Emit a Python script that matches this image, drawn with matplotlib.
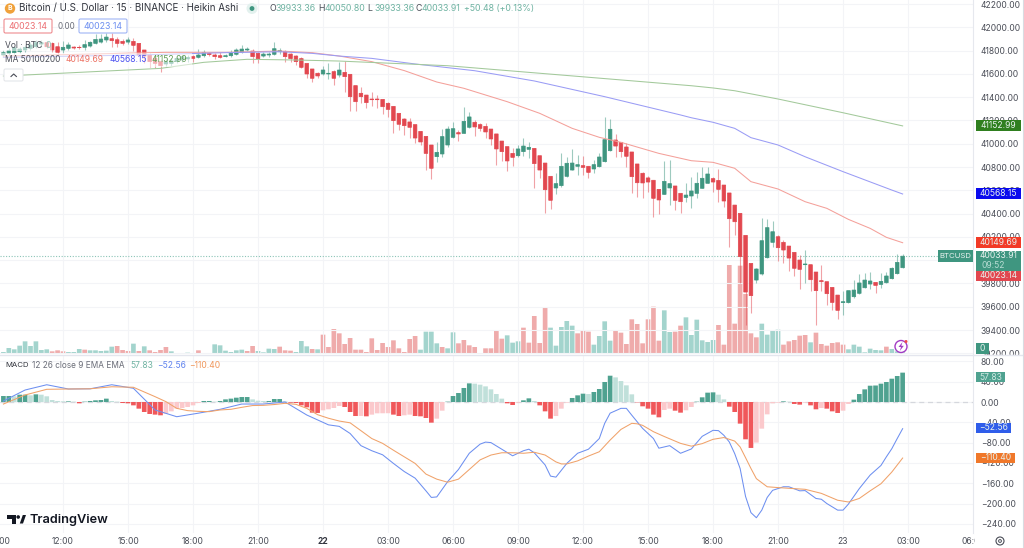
import matplotlib
matplotlib.use('Agg')
import matplotlib.pyplot as plt
from matplotlib.patches import Rectangle, Circle, Polygon, FancyBboxPatch
from matplotlib.ticker import FuncFormatter
from matplotlib.transforms import Bbox

plt.rcParams['font.family'] = ['Inter', 'DejaVu Sans']

# 15 min bars, counted from 12:00 on the 21st
first_bar = -11
opens = [41762,41776,41782,41790,41805,41819,41833,41856,41868,41862,41833,41805,41819,41830,41828,41828,41839,41862,41873,41891,41902,41893,41879,41873,41879,41862,41805,41762,41733,41705,41685,41690,41705,41719,41728,41748,41742,41756,41776,41762,41756,41748,41756,41768,41785,41805,41796,41776,41753,41762,41768,41790,41793,41770,41753,41731,41690,41642,41605,41599,41599,41619,41590,
 41613,41596,41499,41433,41418,41384,41384,41381,41347,41321,41261,41212,41187,41164,41106,41063,40989,40889,40912,40989,41055,41095,41089,41141,41184,41164,41149,41126,41084,41023,40975,40917,40897,40932,40952,40960,40897,40834,40720,40620,40640,40720,40774,40806,40812,40806,40783,40803,40846,40940,41032,41012,40972,40929,40826,40746,40706,40686,40608,40565,40620,40637,40574,
 40539,40551,40574,40617,40660,40700,40685,40645,40577,40473,40402,40213,39972,39829,39881,40021,40153,40201,40153,40121,40067,40001,39961,39961,39898,39824,39815,39766,39700,39635,39635,39686,39715,39763,39795,39809,39792,39806,39841,39884,39935]
highs = [41805,41819,41839,41833,41848,41876,41891,41891,41885,41876,41876,41885,41876,41839,41848,41891,41885,41939,41939,41948,41948,41914,41896,41919,41905,41862,41805,41776,41762,41719,41725,41733,41753,41762,41762,41762,41810,41805,41790,41782,41790,41770,41805,41819,41848,41828,41810,41790,41790,41790,41876,41825,41805,41782,41762,41748,41690,41642,41619,41667,41690,41633,41705,
 41711,41596,41499,41490,41418,41447,41418,41381,41361,41321,41261,41218,41218,41164,41106,41063,40989,41012,41124,41152,41189,41118,41313,41275,41204,41181,41181,41126,41084,41023,40975,40960,40989,41046,41018,40960,40897,40834,40720,40751,40917,40889,40955,40903,40895,40806,40860,40917,41227,41212,41084,41012,41003,40929,40826,40760,40723,40686,40608,40852,40860,40637,40574,
 40660,40717,40760,40803,40803,40717,40783,40645,40577,40473,40402,40213,39972,39930,40359,40350,40339,40216,40173,40121,40067,40044,40087,39961,39898,39958,39815,39766,39700,39738,39738,39829,39881,39887,39901,39809,39887,39901,39944,40050,40050]
lows = [41748,41762,41770,41776,41790,41805,41819,41833,41819,41790,41762,41776,41805,41810,41810,41808,41833,41853,41862,41876,41833,41833,41848,41856,41799,41753,41690,41662,41647,41619,41670,41670,41690,41705,41705,41705,41733,41742,41753,41725,41733,41742,41748,41762,41776,41799,41690,41690,41742,41748,41762,41770,41705,41705,41676,41647,41562,41533,41562,41590,41556,41505,41570,
 41447,41284,41284,41353,41310,41327,41304,41252,41232,41089,41118,41075,41046,41003,40989,40774,40694,40846,40889,40975,41046,41026,41089,41132,41066,41109,41046,40989,40817,40852,40769,40809,40889,40895,40875,40617,40703,40402,40436,40565,40631,40717,40774,40731,40731,40708,40746,40803,40846,40940,40883,40889,40797,40580,40545,40537,40588,40373,40396,40565,40474,40431,40402,
 40502,40451,40531,40617,40660,40588,40502,40459,40116,40216,39806,39443,39549,39801,39872,40015,40110,39995,39972,39909,39864,39752,39806,39738,39443,39738,39615,39572,39491,39529,39635,39672,39709,39758,39749,39715,39758,39801,39838,39881,39935]
closes = [41782,41799,41825,41813,41828,41848,41868,41868,41833,41805,41785,41828,41848,41822,41825,41851,41871,41896,41899,41916,41885,41862,41862,41891,41845,41762,41753,41705,41690,41670,41705,41711,41733,41748,41742,41733,41762,41785,41765,41748,41742,41756,41782,41805,41813,41813,41748,41731,41770,41770,41816,41799,41748,41731,41705,41656,41599,41562,41582,41633,41605,41562,41633,
 41576,41404,41361,41404,41353,41378,41378,41318,41295,41198,41167,41155,41141,41049,41015,40917,40789,40926,41061,41126,41129,41084,41192,41230,41144,41132,41101,41041,40955,40932,40852,40883,40955,40980,40969,40829,40774,40605,40514,40657,40806,40832,40834,40820,40797,40754,40820,40886,41035,41124,40980,40932,40892,40717,40665,40663,40671,40531,40517,40677,40657,40514,40502,
 40559,40594,40660,40703,40740,40671,40608,40508,40356,40330,40030,39726,39695,39924,40167,40279,40244,40107,40087,40018,39930,39921,39967,39832,39738,39815,39712,39637,39569,39643,39738,39743,39804,39829,39821,39783,39818,39864,39930,39981,40034]

volume = [6,18,14,25,38,24,38,12,14,8,11,8,6,6,15,13,11,11,9,10,22,24,12,9,31,9,23,11,6,12,21,8,2,2,4,3,11,3,3,29,26,10,6,11,13,9,24,9,5,16,15,22,11,10,6,39,23,15,14,58,21,75,62,
 30,48,13,13,6,47,12,33,21,41,17,6,45,54,13,67,67,32,21,17,65,32,42,26,21,3,17,17,69,46,56,34,38,79,34,114,33,140,79,25,81,99,85,62,71,67,28,54,98,40,70,64,30,104,90,32,104,142,40,131,66,67,85,
 110,57,103,41,36,42,87,28,267,91,265,180,62,50,91,58,72,73,28,38,42,55,57,35,64,30,25,33,35,28,14,28,22,5,16,12,11,22,15,8,5]
volume_side = ('uuuuuuuuuddduuuduuuuudddududddduuuuuduuuuuuuuddu''uuuddduuudud'
 'ddddddddddddddddduuuuduuddddddddduuuddddduuuuuddduuuuddddddddduudd'
 'uuuuuudddddddduuuudddddudddddduuuuuuuduuuu')

macd_hist = [11.8,11.8,11.2,14.4,14.4,13.1,15.1,14.4,11.2,3.9,2.0,1.3,1.3,0.7,-2.6,0.7,2.0,3.3,3.9,6.6,2.0,0.7,-2.0,-2.6,-6.6,-13.1,-19.7,-23.6,-24.9,-26.2,-23.0,-18.4,-13.1,-11.8,-9.8,-6.6,-2.0,2.0,2.0,0.7,2.0,5.2,6.6,8.5,9.8,9.8,5.2,2.6,2.0,2.0,5.9,5.9,1.3,-1.3,-2.0,-6.6,-10.5,-21.0,-21.6,-16.4,-14.4,-11.8,-7.9,
 -9.8,-19.7,-27.6,-27.5,-28.2,-24.9,-22.3,-22.2,-22.1,-24.9,-27.6,-26.2,-24.9,-27.6,-28.2,-31.5,-40.7,-32.8,-17.1,0.7,11.8,17.7,27.6,36.7,36.1,34.1,30.8,24.9,15.7,6.6,-2.6,-5.9,-1.3,3.3,7.2,2.0,-6.6,-18.4,-32.8,-27.6,-13.1,-1.3,7.9,13.1,16.4,15.7,19.7,25.6,39.4,51.8,48.5,41.3,32.8,15.1,-0.7,-8.5,-13.1,-24.9,-30.2,-15.7,-13.1,-17.1,-21.0,
 -16.4,-9.8,0.7,9.2,18.4,19.0,14.4,5.2,-9.2,-19.7,-42.6,-73.5,-90.5,-80.0,-52.5,-24.3,-2.6,-1.3,1.3,0.7,-3.9,-5.2,-1.3,-6.6,-14.4,-11.8,-13.1,-18.4,-21.6,-17.1,-3.9,4.6,15.7,24.9,32.1,32.5,36.1,39.4,45.9,51.2,57.83]

macd_bars = [-11,-7,-3,1,5,9,13,17,21,25,29,33,37,41,45,49,51,53,55,57,59,61,63,65,67,68,69,71,73,75,77,78,79,81,83,85,86,87,89,90,91,93,95,97,99,100,101,103,104,105,107,109,110,112,114,116,118,120,121,122,123,124,125,126,127,128,129,130,131,133,134,136,137,139,140,141,143,144,145,147,149,151,152,153,154,155]
macd_line = [2,23.6,34,25.6,26,34,27,-15.7,-29,-22,-14.4,-4,-4,0,-25.6,-45,-48,-62,-86,-96,-104,-121,-137,-150,-175,-188,-187,-157,-133,-101,-83,-79,-80,-93,-106,-96,-93,-100,-124,-146,-148,-121,-101,-93,-72,-42,-22,-12.5,-12.5,-26,-52,-72,-91,-86,-101,-92.5,-67.6,-55.8,-56.4,-65.6,-78.7,-101.7,-131,-186,-218,-228,-213,-188,-174,-167,-167,-175,-174.5,-190,-191.6,-200,-213,-213,-201,-170.6,-144,-125,-108,-92,-72,-52.56]
signal_bars = [-11,-7,-3,1,5,9,13,17,19,21,23,25,27,29,31,33,35,37,39,41,43,45,47,49,51,53,55,57,59,61,63,65,67,69,71,73,75,77,79,81,83,85,87,89,91,92,93,95,97,99,101,103,105,106,107,109,111,114,116,118,120,122,124,125,126,127,128,130,132,134,137,140,143,145,147,149,151,153,155]
signal_line = [-4,13.8,25,25.6,26,30,29,10.5,0.7,-12.5,-17,-18.4,-19,-15.7,-14.4,-10.5,-7,-6.6,-5,-2.6,-4.6,-12.5,-25,-32,-37.5,-41,-56.5,-72,-81.5,-95,-108,-121,-142,-152,-158,-152,-133,-114,-104.5,-100,-100,-101,-99,-104.5,-118,-122,-122,-116,-106.5,-98,-75,-54,-42,-43,-46,-58.5,-68,-81.5,-87,-82,-73.5,-70,-77,-88.6,-109.6,-131,-151,-167,-168.6,-170,-172,-180,-193.5,-197,-190,-175,-161,-138,-110.4]

ma50_bars = [-11,19,30,40,46,51,57,63,69,74,82,88,94,99,103,110,114,116,120,124,127,132,137,141,145,149,152,155]
ma50 = [41753,41785,41785,41796,41782,41753,41705,41628,41530,41476,41361,41261,41132,41055,41012,40917,40875,40854,40840,40789,40674,40611,40502,40445,40350,40273,40196,40149.69]
ma100_bars = [-11,14,30,40,46,51,57,65,76,87,100,114,116,120,124,127,132,137,144,153,155]
ma100 = [41742,41762,41782,41790,41776,41753,41733,41685,41627,41539,41404,41247,41223,41184,41132,41052,40989,40888,40760,40602,40568.15]
ma200_bars = [-11,18,26,34,43,51,71,92,116,120,124,132,144,155]
ma200 = [41581,41647,41699,41725,41719,41710,41670,41590,41498,41479,41455,41384,41266,41152.99]

time_bars = [-12,0,12,24,36,48,60,72,84,96,108,120,132,144,156,168]
time_labels = ['09:00','12:00','15:00','18:00','21:00','22','03:00','06:00','09:00','12:00','15:00','18:00','21:00','23','03:00','06:00']

green = '#3f9680'
red = '#e2474f'
text_col = '#4a4d57'
grid_col = '#f3f4f7'

W, H = 1024, 548
fig = plt.figure(figsize=(W / 100, H / 100), dpi=100)


def add_panel(top, bottom, right=973):
    return fig.add_axes([0, 1 - bottom / H, right / W, (bottom - top) / H])


def bar_x(px):
    return (px - 63) / 5.417


def no_snap(bar_set):
    for p in bar_set:
        p.set_snap(False)


ax_vol = add_panel(0, 354)
ax = add_panel(0, 354)
ax_macd = add_panel(355, 533)
ax.patch.set_alpha(0)

xlim = (bar_x(0), bar_x(973))
bars = list(range(first_bar, first_bar + len(opens)))

# volume, behind the candles
no_snap(ax_vol.bar(bars, volume, width=0.86,
                   color=['#a3d4cd' if s == 'u' else '#efabab' for s in volume_side]))
ax_vol.set_xlim(xlim)
ax_vol.set_ylim(0, 1062)
ax_vol.set_xticks([])
ax_vol.set_yticks([])
for s in ax_vol.spines.values():
    s.set_visible(False)

# heikin ashi candles
for i, o, h, l, c in zip(bars, opens, highs, lows, closes):
    col = green if c >= o else red
    ax.vlines(i, l, h, color=col, lw=0.8, alpha=0.5, zorder=3)
    no_snap(ax.bar(i, abs(c - o), bottom=min(o, c), width=0.66, color=col, zorder=4,
                   edgecolor=col, linewidth=0.5))

ax.plot(ma50_bars, ma50, color='#f4a09a', lw=0.75, zorder=5)
ax.plot(ma100_bars, ma100, color='#9a9cf5', lw=0.75, zorder=5)
ax.plot(ma200_bars, ma200, color='#a3c99b', lw=0.75, zorder=5)
ax.axhline(closes[-1], color='#8cc4b7', lw=0.8, ls=(0, (1, 1.5)), zorder=2)

ax.set_xlim(xlim)
ax.set_ylim(39400 - 24 * 8.589, 39400 + 330 * 8.589)
ax.set_yticks(range(39200, 42201, 200))

# macd
hist_cols = []
for n, v in enumerate(macd_hist):
    prev = macd_hist[n - 1] if n else v
    if v >= 0:
        hist_cols.append('#4fa290' if v >= prev else '#c0e0da')
    else:
        hist_cols.append('#f0575a' if v < prev else '#fbc9cc')
ax_macd.axhline(0, color='#d5d7dd', lw=0.9, ls=(0, (4, 3)), zorder=1)
no_snap(ax_macd.bar(bars, macd_hist, width=0.86, color=hist_cols, zorder=2))
ax_macd.plot(macd_bars, macd_line, color='#6d8ff0', lw=0.75, zorder=3)
ax_macd.plot(signal_bars, signal_line, color='#f0a26a', lw=0.75, zorder=3)
ax_macd.set_xlim(xlim)
ax_macd.set_ylim((402 - 533) * 1.97, (402 - 355) * 1.97)
ax_macd.set_yticks(range(-240, 81, 40))
ax_macd.yaxis.set_major_formatter(FuncFormatter(lambda v, p: f'{v:.2f}'.replace('-', '\u2212')))

for a in (ax, ax_macd):
    a.yaxis.tick_right()
    a.tick_params(axis='y', length=0, pad=5.5, labelsize=6.1, labelcolor=text_col)
    a.tick_params(axis='x', length=0, labelbottom=False)
    a.set_xticks(time_bars[1:-1])
    a.grid(True, color=grid_col, lw=0.8, zorder=0)
    a.set_axisbelow(True)
    for s in a.spines.values():
        s.set_visible(False)
ax.yaxis.set_major_formatter(FuncFormatter(lambda v, p: f'{v:.2f}'))

# everything in screen pixels from here on
ov = fig.add_axes([0, 0, 1, 1], zorder=10)
ov.set_xlim(0, W)
ov.set_ylim(H, 0)
ov.axis('off')

ov.plot([973, 973], [0, 533], color='#e6e8ee', lw=0.8)
ov.add_patch(Rectangle((975, 354.5), 47, 2.5, color='white', zorder=1))
ov.plot([0, 1024], [354.5, 354.5], color='#e4e6ee', lw=1, zorder=2)
ov.plot([1023.4, 1023.4], [0, H], color='#d9dbe1', lw=0.8)

# fade behind the legend rows
ov.add_patch(Rectangle((0, 39), 52, 12, color='white', alpha=0.55, lw=0))
ov.add_patch(Rectangle((0, 53), 192, 14, color='white', alpha=0.55, lw=0))


def put(x, y, s, color=text_col, size=6.5, ha='left', **kw):
    return ov.text(x, y, s, color=color, fontsize=size, ha=ha, va='center', **kw)


def box(x0, x1, y0, y1, s, color, size=6.1, tcol='#e8f2ef'):
    ov.add_patch(Rectangle((x0, y0), x1 - x0, y1 - y0, color=color, lw=0, zorder=3))
    ov.text((x0 + x1) / 2, (y0 + y1) / 2, s, color=tcol, fontsize=size, ha='center',
            va='center', zorder=4)


# header
ov.add_patch(Circle((10, 8.5), 5.2, color='#f0a13a', lw=0))
ov.text(10, 8.5, 'B', color='white', fontsize=5, fontweight='bold', ha='center', va='center')
put(19, 8.5, 'Bitcoin / U.S. Dollar \u00b7 15 \u00b7 BINANCE \u00b7 Heikin Ashi', '#33363f', 7.05)
ov.add_patch(Circle((252, 8.5), 5.5, color='#e3f1ee', lw=0))
ov.add_patch(Circle((252, 8.5), 2.4, color='#3f9680', lw=0))
for x, letter, val in [(269, 'O', '39933.36'), (318, 'H', '40050.80'),
                       (367.5, 'L', '39933.36'), (415, 'C', '40033.91')]:
    put(x, 8.5, letter, '#4a4d57', 6.3)
    put(x + 6.5, 8.5, val, '#6fb3a2', 6.3)
put(464, 8.5, '+50.48 (+0.13%)', '#6fb3a2', 6.3)

for x0, x1, col, s in [(4, 52, '#ee8b8f', '40023.14'), (79, 127, '#9fb4f5', '40023.14')]:
    ov.add_patch(FancyBboxPatch((x0, 19), x1 - x0, 14, boxstyle='round,pad=0,rounding_size=1.5',
                                fc='white', ec=col, lw=0.8))
    put((x0 + x1) / 2, 26.5, s, '#ec6f73' if x0 == 4 else '#6d8ff0', 6.3, ha='center')
put(58, 26.5, '0.00', '#6a6d78', 5.8)

put(5, 45, 'Vol \u00b7 BTC', '#4a4d57', 6.1)
put(45, 45, '0', '#8cc4b7', 6.1)
put(5, 60, 'MA 50100200', '#4a4d57', 6.0)
put(66, 60, '40149.69', '#ec6f60', 6.1)
put(109, 60, '40568.15', '#4a4ff0', 6.1)
put(151, 60, '41152.99', '#5f9c52', 6.1)
ov.add_patch(FancyBboxPatch((4, 69), 19, 12, boxstyle='round,pad=0,rounding_size=1.5',
                            fc='white', ec='#e4e6ea', lw=0.8))
ov.plot([11, 13.7, 16.4], [76.5, 74, 76.5], color='#4a4d57', lw=0.8)

# macd legend
put(5, 365, 'MACD', '#33363f', 5.6)
put(32, 365, '12 26 close 9 EMA EMA', '#6a6d78', 5.95)
put(130, 365, '57.83', '#6fb3a2', 6.1)
put(157, 365, '\u221252.56', '#5f82ee', 6.1)
put(189, 365, '\u2212110.40', '#f0965a', 6.1)

# price scale labels
box(976, 1021, 120, 131, '41152.99', '#2f7f1f')
box(976, 1021, 188, 199, '40568.15', '#0a0aee')
box(976, 1021, 237, 248, '40149.69', '#f23a26')
box(938, 973, 250, 262, 'BTCUSD', '#3f9680', size=5.6)
ov.add_patch(Rectangle((976, 250.5), 45, 21, color='#3f9680', lw=0, zorder=3))
ov.text(998.5, 256, '40033.91', color='#e8f2ef', fontsize=6.1, ha='center', va='center', zorder=4)
ov.text(981, 265.5, '09:52', color='#b7dcd3', fontsize=6.1, va='center', ha='left', zorder=4)
box(976, 1021, 271, 281, '40023.14', '#e2474f')
box(976, 989, 343, 354, '0', '#3f9680')
box(976, 1005, 372, 382, '57.83', '#4fa290', tcol='#cfe8e2')
box(976, 1011, 423, 433, '\u221252.56', '#2f5dea')
box(976, 1015, 453, 463, '\u2212110.40', '#f0782a')

# bolt icon
ov.add_patch(Circle((901, 346.5), 6, fc='white', ec='#a23bc4', lw=1))
ov.add_patch(Polygon([(902.5, 342), (898.5, 347), (901, 347), (899.8, 351), (903.8, 345.8),
                      (901.3, 345.8)], color='#a23bc4', lw=0))
ov.add_patch(Circle((906, 341.5), 1.5, color='#f04b4b', lw=0))

# time axis
clip = Bbox([[0, 0], [975, H]])
for b, s in zip(time_bars, time_labels):
    t = put(63 + 5.417 * b, 541, s, '#333640' if s == '22' else text_col, 6.1, ha='center',
            fontweight='bold' if s == '22' else 'normal')
    if b == 168:
        t.set_clip_box(clip)
        t.set_clip_on(True)

# gear
ov.add_patch(Circle((1000, 541), 4, fc='white', ec='#4a4d57', lw=0.8))
ov.add_patch(Circle((1000, 541), 1.4, fc='white', ec='#4a4d57', lw=0.7))

# logo
logo_col = '#131722'
ov.add_patch(Polygon([(7, 515), (16, 515), (16, 523.5), (12, 523.5), (12, 519), (7, 519)],
                     color=logo_col, lw=0))
ov.add_patch(Circle((18.2, 517), 1.8, color=logo_col, lw=0))
ov.add_patch(Polygon([(19.8, 523.5), (23, 523.5), (26, 515), (22.8, 515)], color=logo_col, lw=0))
put(30, 519.5, 'TradingView', logo_col, 9.2, fontweight='semibold')

fig.savefig('out.png', dpi=100)
